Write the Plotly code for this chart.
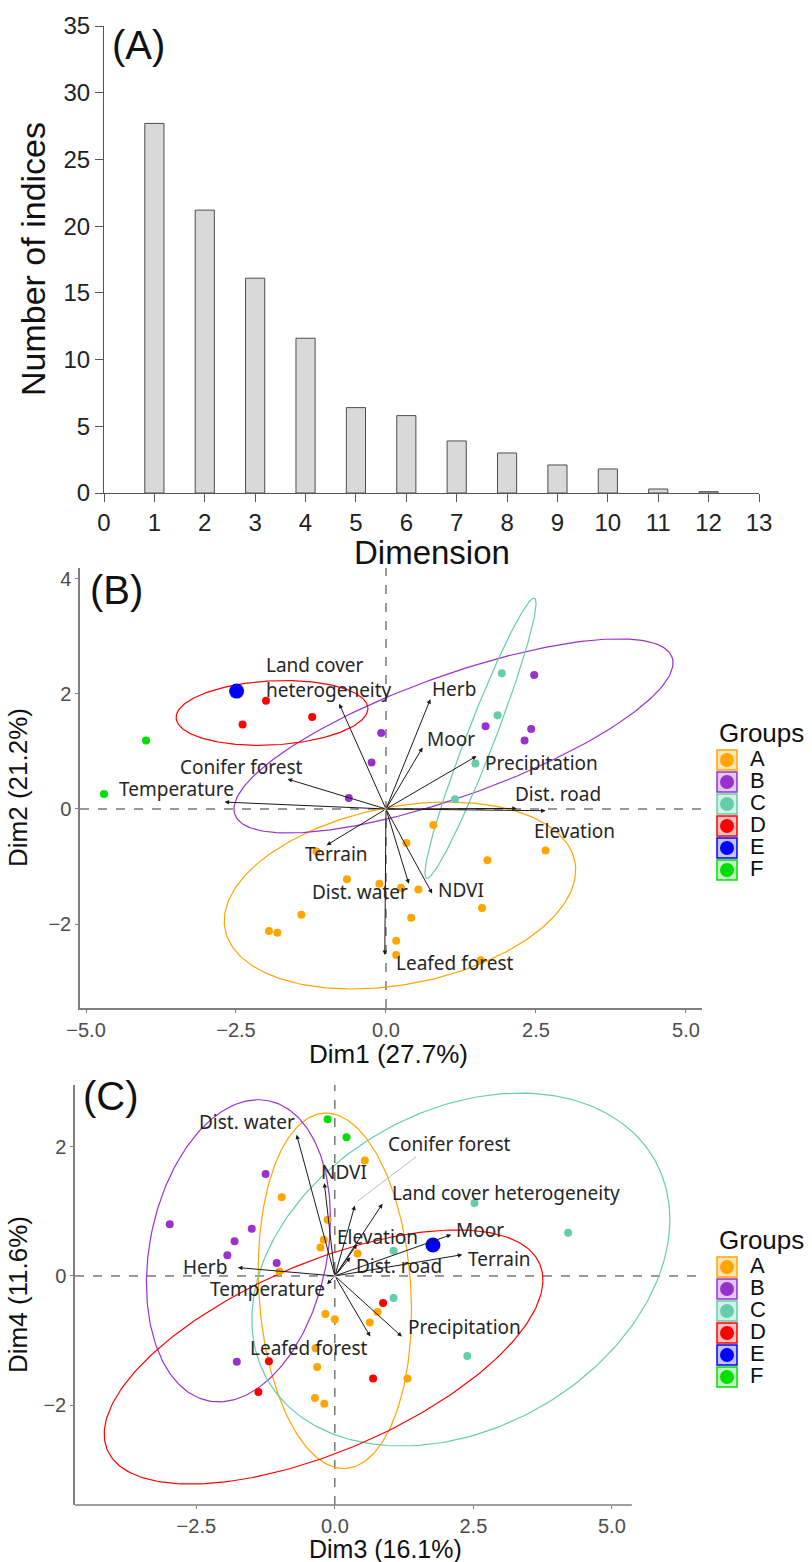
import numpy as np
import plotly.graph_objects as go

W, H = 812, 1562

# ---------------- Panel A data ----------------
dims = list(range(1, 13))
pct_var = [27.7, 21.2, 16.1, 11.6, 6.4, 5.8, 3.9, 3.0, 2.1, 1.8, 0.3, 0.1]

groups = ["A", "B", "C", "D", "E", "F"]
group_colors = ["#FFA500", "#9932CC", "#66CDAA", "#FF0000", "#0000FF", "#00E000"]
group_fill = ["#FFE4B3", "#E3C7F2", "#D4F1E7", "#FFC2C2", "#C2C2FF", "#C2F5C2"]

# ---------------- Panel B individuals (Dim1, Dim2) ----------------
bA_x = [0.79, 0.34, 2.66, 1.69, -1.16, -0.65, -0.11, 0.25, 0.54, 1.60, 0.42, -1.41, -1.95, -1.81, 0.17, 0.17, 1.58]
bA_y = [-0.28, -0.59, -0.72, -0.89, -0.74, -1.22, -1.30, -1.37, -1.40, -1.72, -1.89, -1.84, -2.12, -2.15, -2.29, -2.54, -2.63]
bB_x = [-0.08, -0.24, -0.62, 2.47, 1.66, 2.42, 2.31]
bB_y = [1.32, 0.81, 0.19, 2.33, 1.44, 1.39, 1.19]
bC_x = [1.93, 1.86, 1.49, 1.15]
bC_y = [2.36, 1.63, 0.79, 0.17]
bD_x = [-2.00, -2.39, -1.23]
bD_y = [1.88, 1.47, 1.60]
bE_x = [-2.49]
bE_y = [2.05]
bF_x = [-4.00, -4.70]
bF_y = [1.19, 0.26]

# ---------------- Panel C individuals (Dim3, Dim4) ----------------
cA_x = [0.54, -0.96, -1.00, -0.13, -0.20, -0.26, 0.41, 0.77, 0.63, -0.17, 0.00, -0.35, -0.32, 1.31, -0.36, -0.19]
cA_y = [1.79, 1.22, 0.07, 0.87, 0.56, 0.44, 0.35, -0.56, -0.72, -0.59, -0.67, -1.12, -1.41, -1.59, -1.89, -1.98]
cB_x = [-1.25, -2.98, -1.50, -1.81, -1.94, -1.05, -1.77]
cB_y = [1.58, 0.80, 0.73, 0.54, 0.32, 0.20, -1.33]
cC_x = [2.52, 4.21, 1.06, 1.06, 2.39]
cC_y = [1.13, 0.67, 0.39, -0.34, -1.24]
cD_x = [0.87, -1.19, 0.69, -1.38]
cD_y = [-0.42, -1.32, -1.59, -1.80]
cE_x = [1.77]
cE_y = [0.48]
cF_x = [-0.13, 0.21]
cF_y = [2.43, 2.15]

# ---------------- Variables (arrows) ----------------
b_var_names = ["Land cover<br>heterogeneity", "Conifer forest", "Temperature", "Terrain", "Herb", "Moor",
               "Precipitation", "Dist. road", "Elevation", "Dist. water", "NDVI", "Leafed forest"]
b_var_x = [-0.78, -1.64, -2.69, -0.99, 0.74, 0.61, 1.51, 2.18, 2.66, 0.38, 0.77, -0.02]
b_var_y = [1.83, 0.52, 0.12, -0.63, 1.91, 1.07, 0.92, 0.01, -0.03, -1.30, -1.47, -2.54]
b_lab_x = [-2.03, -2.40, -3.49, -0.82, 1.13, 1.08, 2.60, 2.87, 3.15, -0.43, 1.25, 1.15]
b_lab_y = [2.28, 0.73, 0.35, -0.78, 2.09, 1.22, 0.80, 0.26, -0.38, -1.44, -1.41, -2.68]

c_var_names = ["Dist. water", "NDVI", "Conifer forest", "Land cover heterogeneity", "Moor", "Terrain",
               "Elevation", "Dist. road", "Herb", "Temperature", "Precipitation", "Leafed forest"]
c_var_x = [-0.69, -0.19, 0.36, 0.86, 2.10, 2.30, 0.40, 0.28, -1.75, -0.14, 1.21, 0.64]
c_var_y = [2.19, 1.44, 1.09, 1.12, 0.64, 0.33, 0.49, 0.29, 0.13, -0.13, -0.94, -0.94]
c_lab_x = [-1.59, 0.16, 2.06, 3.09, 2.62, 2.97, 0.77, 1.15, -2.34, -1.22, 2.34, -0.46]
c_lab_y = [2.39, 1.61, 2.04, 1.29, 0.72, 0.26, 0.60, 0.16, 0.14, -0.20, -0.79, -1.12]
c_leader_x = [1.47, 0.41]
c_leader_y = [1.85, 1.16]

# ---------------- Concentration ellipses: centre, conjugate semi-axes ----------------
b_ell_groups = ["A", "B", "C", "D"]
b_ell_cx = [0.233, 1.125, 1.575, -1.90]
b_ell_cy = [-1.504, 1.27, 1.23, 1.67]
b_ell_u = [(2.915, 0.591), (3.643, 1.368), (0.90, 2.434), (1.598, 0.087)]
b_ell_v = [(-0.282, 1.514), (-0.341, 0.988), (-0.218, 0.088), (-0.028, 0.556)]

c_ell_groups = ["A", "B", "C", "D"]
c_ell_cx = [0.0, -1.74, 2.274, -0.204]
c_ell_cy = [-0.23, 0.39, 0.10, -1.256]
c_ell_u = [(-0.196, 2.754), (0.541, 2.326), (3.498, 1.700), (3.901, 1.443)]
c_ell_v = [(-1.369, -0.072), (-1.570, 0.2695), (-1.411, 2.142), (-0.672, 1.340)]

# ---------------- helpers ----------------
def px_x(p):
    return p / W

def px_y(p):
    return 1 - p / H

TICKFONT = "Liberation Sans, Arial, sans-serif"
LABFONT = "Noto Sans, Open Sans, sans-serif"

fig = go.Figure()

# ---- Panel A bars ----
fig.add_trace(go.Bar(x=dims, y=pct_var, width=0.38, marker=dict(color="#D9D9D9", line=dict(color="#4d4d4d", width=1)),
                     xaxis="x", yaxis="y", showlegend=False))

t = np.linspace(0, 2 * np.pi, 240)

def add_ellipses(gl, cx, cy, u, v, xa, ya):
    for g, x0, y0, uu, vv in zip(gl, cx, cy, u, v):
        col = group_colors[groups.index(g)]
        ex = x0 + uu[0] * np.cos(t) + vv[0] * np.sin(t)
        ey = y0 + uu[1] * np.cos(t) + vv[1] * np.sin(t)
        fig.add_trace(go.Scatter(x=ex, y=ey, mode="lines", line=dict(color=col, width=1.2),
                                 xaxis=xa, yaxis=ya, showlegend=False, hoverinfo="skip"))

add_ellipses(b_ell_groups, b_ell_cx, b_ell_cy, b_ell_u, b_ell_v, "x2", "y2")
add_ellipses(c_ell_groups, c_ell_cx, c_ell_cy, c_ell_u, c_ell_v, "x3", "y3")

b_pts = [(bA_x, bA_y), (bB_x, bB_y), (bC_x, bC_y), (bD_x, bD_y), (bE_x, bE_y), (bF_x, bF_y)]
c_pts = [(cA_x, cA_y), (cB_x, cB_y), (cC_x, cC_y), (cD_x, cD_y), (cE_x, cE_y), (cF_x, cF_y)]
for pts, xa, ya in [(b_pts, "x2", "y2"), (c_pts, "x3", "y3")]:
    for i, (xs, ys) in enumerate(pts):
        fig.add_trace(go.Scatter(x=xs, y=ys, mode="markers",
                                 marker=dict(color=group_colors[i], size=15 if groups[i] == "E" else 8),
                                 xaxis=xa, yaxis=ya, showlegend=False))

# leader line in panel C
fig.add_trace(go.Scatter(x=c_leader_x, y=c_leader_y, mode="lines", line=dict(color="#BBBBBB", width=1),
                         xaxis="x3", yaxis="y3", showlegend=False, hoverinfo="skip"))

# ---- manual legends on overlay axis ----
leg_sym_x = 727
leg_lab_x = 750
for y_title in (733, 1240):
    ys = [y_title + 27 + 22 * i for i in range(len(groups))]
    fig.add_trace(go.Scatter(x=[leg_sym_x] * len(groups), y=ys, mode="markers",
                             marker=dict(symbol="square", size=20, color=group_fill,
                                         line=dict(color=group_colors, width=1.5)),
                             xaxis="x4", yaxis="y4", showlegend=False, hoverinfo="skip"))
    fig.add_trace(go.Scatter(x=[leg_sym_x] * len(groups), y=ys, mode="markers",
                             marker=dict(size=14, color=group_colors),
                             xaxis="x4", yaxis="y4", showlegend=False, hoverinfo="skip"))
    fig.add_trace(go.Scatter(x=[leg_lab_x] * len(groups), y=ys, mode="text",
                             text=groups, textposition="middle right",
                             textfont=dict(family=TICKFONT, size=22, color="#111111"),
                             xaxis="x4", yaxis="y4", showlegend=False, hoverinfo="skip"))

annotations = []

def arrows(vx, vy, lx, ly, names, xr, yr):
    for x1, y1 in zip(vx, vy):
        annotations.append(dict(x=x1, y=y1, ax=0, ay=0, xref=xr, yref=yr, axref=xr, ayref=yr,
                                showarrow=True, arrowhead=2, arrowsize=0.9, arrowwidth=1,
                                arrowcolor="#1a1a1a", text=""))
    for x1, y1, nm in zip(lx, ly, names):
        if "<br>" in nm:
            annotations.append(dict(x=x1, y=y1, xref=xr, yref=yr, text=nm, showarrow=False,
                                    xanchor="left", align="left",
                                    font=dict(family=LABFONT, size=19, color="#262626")))
        else:
            annotations.append(dict(x=x1, y=y1, xref=xr, yref=yr, text=nm, showarrow=False,
                                    font=dict(family=LABFONT, size=19, color="#262626")))

arrows(b_var_x, b_var_y, b_lab_x, b_lab_y, b_var_names, "x2", "y2")
arrows(c_var_x, c_var_y, c_lab_x, c_lab_y, c_var_names, "x3", "y3")

def paper_text(txt, x, y, size, angle=0, color="#111111"):
    annotations.append(dict(x=px_x(x), y=px_y(y), xref="paper", yref="paper", text=txt, showarrow=False,
                            textangle=angle, xanchor="center", yanchor="middle",
                            font=dict(family=TICKFONT, size=size, color=color)))

paper_text("(A)", 138, 45, 40)
paper_text("(B)", 117, 590, 40)
paper_text("(C)", 111, 1096, 40)
paper_text("Number of indices", 33, 259, 34, -90)
paper_text("Dimension", 432, 552, 33)
paper_text("Dim2 (21.2%)", 18, 788, 26, -90)
paper_text("Dim1 (27.7%)", 388, 1054, 26)
paper_text("Dim4 (11.6%)", 18, 1295, 26, -90)
paper_text("Dim3 (16.1%)", 385, 1549, 25)
for y_title in (733, 1240):
    annotations.append(dict(x=px_x(717), y=px_y(y_title), xref="paper", yref="paper", text="Groups",
                            showarrow=False, xanchor="left", yanchor="middle",
                            font=dict(family=TICKFONT, size=26, color="#111111")))

shapes = []
for xr, yr in [("x2", "y2"), ("x3", "y3")]:
    shapes.append(dict(type="line", xref=xr + " domain", yref=yr, x0=0, x1=1, y0=0, y1=0,
                       line=dict(color="#333333", width=1, dash="dash"), layer="below"))
    shapes.append(dict(type="line", xref=xr, yref=yr + " domain", x0=0, x1=0, y0=0, y1=1,
                       line=dict(color="#333333", width=1, dash="dash"), layer="below"))
# panel C x axis line (shorter than the panel)
shapes.append(dict(type="line", xref="x3", yref="y3 domain", x0=-4.69, x1=5.36, y0=0, y1=0,
                   line=dict(color="#7f7f7f", width=1.5)))

axis_grey = "#7f7f7f"
tick_grey = "#4d4d4d"

fig.update_layout(
    width=W, height=H, margin=dict(l=0, r=0, t=0, b=0),
    paper_bgcolor="white", plot_bgcolor="rgba(0,0,0,0)",
    showlegend=False,
    annotations=annotations, shapes=shapes,
    xaxis=dict(domain=[px_x(104), px_x(759)], range=[0, 13], tickvals=list(range(14)),
               ticks="outside", ticklen=8, tickcolor="#555555", showline=True, linecolor="#555555",
               linewidth=1.2, showgrid=False, zeroline=False, anchor="y", automargin=False,
               tickfont=dict(family=TICKFONT, size=24, color="#222222")),
    yaxis=dict(domain=[px_y(493), px_y(26)], range=[0, 35], dtick=5,
               ticks="outside", ticklen=8, tickcolor="#555555", showline=True, linecolor="#555555",
               linewidth=1.2, showgrid=False, zeroline=False, anchor="x", automargin=False,
               tickfont=dict(family=TICKFONT, size=24, color="#222222")),
    xaxis2=dict(domain=[px_x(80), px_x(702)], range=[-5.1, 5.267], tickvals=[-5, -2.5, 0, 2.5, 5],
                tickformat=".1f", ticks="outside", ticklen=3, tickcolor=axis_grey,
                showline=True, linecolor=axis_grey, linewidth=1.5, showgrid=False, zeroline=False,
                anchor="y2", automargin=False, tickfont=dict(family=TICKFONT, size=20, color=tick_grey)),
    yaxis2=dict(domain=[px_y(1008), px_y(568)], range=[-3.46, 4.19], tickvals=[-2, 0, 2, 4],
                ticks="outside", ticklen=3, tickcolor=axis_grey,
                showline=True, linecolor=axis_grey, linewidth=1.5, showgrid=False, zeroline=False,
                anchor="x2", automargin=False, tickfont=dict(family=TICKFONT, size=20, color=tick_grey)),
    xaxis3=dict(domain=[px_x(75), px_x(700)], range=[-4.69, 6.59], tickvals=[-2.5, 0, 2.5, 5],
                tickformat=".1f", ticks="outside", ticklen=3, tickcolor=axis_grey,
                showline=False, showgrid=False, zeroline=False,
                anchor="y3", automargin=False, tickfont=dict(family=TICKFONT, size=20, color=tick_grey)),
    yaxis3=dict(domain=[px_y(1505), px_y(1085)], range=[-3.55, 2.96], tickvals=[-2, 0, 2],
                ticks="outside", ticklen=3, tickcolor=axis_grey,
                showline=True, linecolor=axis_grey, linewidth=1.5, showgrid=False, zeroline=False,
                anchor="x3", automargin=False, tickfont=dict(family=TICKFONT, size=20, color=tick_grey)),
    xaxis4=dict(domain=[0, 1], range=[0, W], visible=False, anchor="y4", fixedrange=True, automargin=False),
    yaxis4=dict(domain=[0, 1], range=[H, 0], visible=False, anchor="x4", fixedrange=True, automargin=False),
)

fig.write_html("out.html", config={"displayModeBar": False},
               post_script="document.body.style.margin='0px';document.body.style.overflow='hidden';")
